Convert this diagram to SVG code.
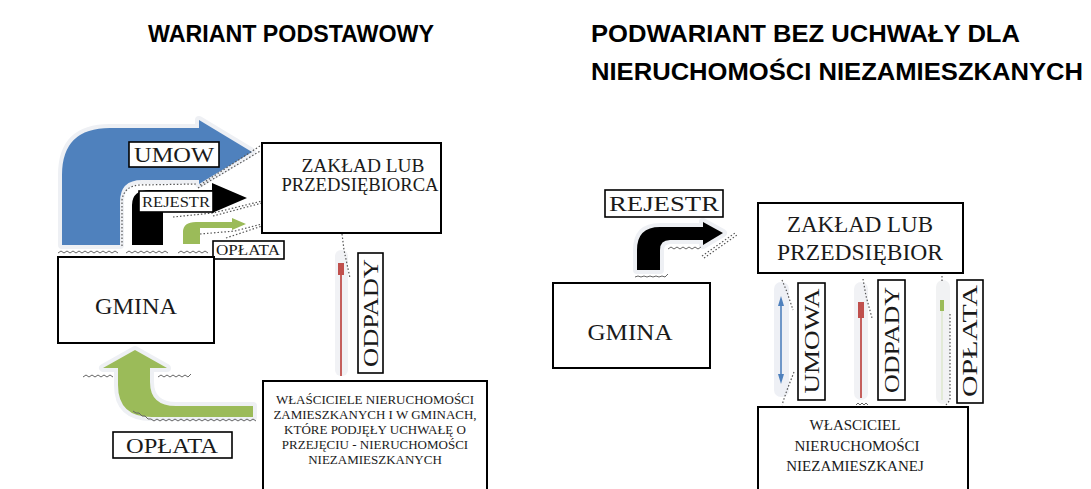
<svg xmlns="http://www.w3.org/2000/svg" width="1091" height="489" viewBox="0 0 1091 489">
<style>
.title{font-family:"Liberation Sans",Arial,sans-serif;font-weight:bold;font-size:24px;fill:#000}
.t{font-family:"Liberation Serif","Times New Roman",serif;fill:#1a1a1a}
.box{fill:#fff;stroke:#000;stroke-width:2}
.lbl{fill:#fff;stroke:#000;stroke-width:1.6}
.dot{fill:none;stroke:#555;stroke-width:1.2;stroke-dasharray:1.5 2}
.wave{fill:none;stroke:#666;stroke-width:1}
.halo{fill:none;stroke:#eef0f4;stroke-width:8;stroke-linejoin:round}
</style>
<rect width="1091" height="489" fill="#fff"/>
<text class="title" x="148" y="42" textLength="286" lengthAdjust="spacingAndGlyphs">WARIANT PODSTAWOWY</text>
<text class="title" x="591" y="42" textLength="429" lengthAdjust="spacingAndGlyphs">PODWARIANT BEZ UCHWAŁY DLA</text>
<text class="title" x="591" y="80" textLength="492" lengthAdjust="spacingAndGlyphs">NIERUCHOMOŚCI NIEZAMIESZKANYCH</text>

<g id="connectors">
  <!-- LEFT: blue UMOWA bent arrow -->
  <path class="halo" d="M62,245 L62,175 Q62,128 110,128 L199,128 L199,120 L252,152 L199,184 L199,180 L142,180 Q120,180 120,202 L120,245 Z"/>
  <path id="arrow-umow" d="M62,245 L62,175 Q62,128 110,128 L199,128 L199,120 L252,152 L199,184 L199,180 L142,180 Q120,180 120,202 L120,245 Z" fill="#4F81BD"/>
  <path class="dot" d="M122,246 L122,200 Q124,186 140,185 L196,184"/>
  <path class="dot" d="M198,188 L262,150"/>
  <path class="dot" d="M200,185 L260,146"/>
  <!-- black REJESTR bent arrow -->
  <path id="arrow-rejestr" d="M132,245 L132,205 Q132,190 150,190 L212,190 L212,183 L247,198 L212,213 L212,208 L163,208 L163,245 Z" fill="#000"/>
  <path class="dot" d="M173,217 L213,213 L262,201"/>
  <path class="dot" d="M213,216 L262,203"/>
  <!-- green small OPŁATA arrow -->
  <path id="arrow-oplata-top" d="M183,244 L183,232 Q183,222 196,222 L232,222 L232,218 L246,224 L232,230 L232,228 L200,228 L200,244 Z" fill="#9BBB59"/>
  <path class="dot" d="M200,234 L235,231 L262,224"/>
  <path class="dot" d="M226,238 L262,226"/>
  <!-- wavy baseline under left arrows -->
  <path class="wave" d="M58,253 l3,-2 l3,2 l3,-2 l3,2 l3,-2 l3,2 l3,-2 l3,2 l3,-2 l3,2 l3,-2 l3,2 l3,-2 l3,2 l3,-2 l3,2 l3,-2 l3,2 l3,-2 l3,2 M126,253 l3,-2 l3,2 l3,-2 l3,2 l3,-2 l3,2 l3,-2 l3,2 l3,-2 l3,2 l3,-2 l3,2 l3,-2 l3,2 M178,253 l3,-2 l3,2 l3,-2 l3,2 l3,-2 l3,2 l3,-2 l3,2 l3,-2 l3,2"/>
  <!-- left red ODPADY arrow -->
  <rect x="335" y="250" width="13" height="126" rx="6" fill="#f1f2f5"/>
  <line x1="341" y1="270" x2="341" y2="376" stroke="#C0504D" stroke-width="1.8"/>
  <rect x="338" y="263" width="6" height="12" fill="#C0504D"/>
  <path class="dot" d="M342,234 L344,250 L350,278"/>
  <!-- left green OPŁATA arrow up to GMINA -->
  <path class="halo" d="M118,368 L118,385 Q118,417 152,417 L253,417 L253,406 L176,406 Q150,406 150,382 L150,368 L167,368 L135,350 L103,368 Z"/>
  <path id="arrow-oplata-left" d="M118,368 L118,385 Q118,417 152,417 L253,417 L253,406 L176,406 Q150,406 150,382 L150,368 L167,368 L135,350 L103,368 Z" fill="#9BBB59"/>
  <path class="wave" d="M83,377 l3,-2 l3,2 l3,-2 l3,2 l3,-2 l3,2 l3,-2 l3,2 l3,-2 l3,2 M158,377 l3,-2 l3,2 l3,-2 l3,2 l3,-2 l3,2 l3,-2 l3,2 l3,-2 l3,2 l3,-3"/>
  <path class="wave" d="M133,411 l3,2 l3,0 l3,3 l3,0 l3,3 l3,0 l3,2 l3,-2 l3,2 l3,-2 l3,2 l3,-2 l3,2 l3,-2 l3,2 l3,-2 l3,2 l3,-2 l3,2 l3,-2 l3,2 l3,-2 l3,2 l3,-2 l3,2 l3,-2 l3,2 l3,-2 l3,2 l3,-2 l3,2 l3,-2 l3,2 l3,-2 l3,2 l3,-2 l3,2 l3,-2 l3,2 l3,-2 l3,2"/>

  <!-- RIGHT: black REJESTR bent arrow -->
  <path class="halo" d="M637,270 L637,250 Q637,227 660,227 L703,227 L703,222 L723,233 L703,245 L703,240 L670,240 Q660,240 660,250 L660,270 Z"/>
  <path id="arrow-rejestr-right" d="M637,270 L637,250 Q637,227 660,227 L703,227 L703,222 L723,233 L703,245 L703,240 L670,240 Q660,240 660,250 L660,270 Z" fill="#000"/>
  <path class="wave" d="M635,277 l3,-1 l3,1 l3,-1 l3,1 l3,-1 l3,1 l3,-1 l3,1 l3,-1 l3,1 l3,-3"/>
  <path class="wave" d="M668,249 l3,-2 l3,2 l3,-2 l3,2 l3,-2 l3,2 l3,-2 l3,2 l3,-2 l3,2 l3,-2"/>
  <path class="dot" d="M702,256 L735,233"/>
  <path class="dot" d="M704,258 L737,235"/>
  <!-- right blue UMOWA double arrow -->
  <rect x="774" y="282" width="15" height="115" rx="7" fill="#eef0f5"/>
  <line x1="781" y1="299" x2="781" y2="381" stroke="#4F81BD" stroke-width="1.6"/>
  <path d="M778,306 L781,296 L784,306 Z M778,374 L781,384 L784,374 Z" fill="#4F81BD"/>
  <path class="dot" d="M782,280 L787,292 L793,310"/>
  <path class="dot" d="M794,372 L787,390 L782,405"/>
  <!-- right red ODPADY arrow -->
  <rect x="854" y="282" width="14" height="118" rx="7" fill="#f1f2f5"/>
  <line x1="861" y1="310" x2="861" y2="398" stroke="#C0504D" stroke-width="1.8"/>
  <rect x="858" y="302" width="6" height="16" fill="#C0504D"/>
  <path class="dot" d="M863,279 L866,296 L872,318"/>
  <path class="wave" d="M856,405 l2,-2 l2,2 l2,-2 l2,2 l2,-2 l2,2"/>
  <!-- right green OPŁATA arrow -->
  <rect x="936" y="280" width="14" height="124" rx="7" fill="#f1f2f3"/>
  <rect x="940" y="300" width="4" height="11" fill="#9BBB59"/>
  <line x1="942" y1="311" x2="942" y2="400" stroke="#d9e4c4" stroke-width="1.2"/>
  <path class="dot" d="M950,314 L950,400 L946,405"/>
  <path class="dot" d="M942,276 L942,282"/>
</g>

<g id="node-zaklad-left">
  <rect class="box" x="262" y="143" width="179" height="90"/>
  <text class="t" x="363" y="172" font-size="18" text-anchor="middle" textLength="123" lengthAdjust="spacingAndGlyphs">ZAKŁAD LUB</text>
  <text class="t" x="360" y="191" font-size="18" text-anchor="middle" textLength="157" lengthAdjust="spacingAndGlyphs">PRZEDSIĘBIORCA</text>
</g>
<g id="label-umow">
  <rect class="lbl" x="129" y="142" width="90" height="25"/>
  <text class="t" x="174" y="162" font-size="22" text-anchor="middle" textLength="80" lengthAdjust="spacingAndGlyphs">UMOW</text>
</g>
<g id="label-rejestr-left">
  <rect class="lbl" x="139" y="191" width="74" height="21"/>
  <text class="t" x="176" y="207" font-size="15" text-anchor="middle" textLength="68" lengthAdjust="spacingAndGlyphs">REJESTR</text>
</g>
<g id="label-oplata-top">
  <rect class="lbl" x="213" y="241" width="71" height="18"/>
  <text class="t" x="248" y="255" font-size="14" text-anchor="middle" textLength="64" lengthAdjust="spacingAndGlyphs">OPŁATA</text>
</g>
<g id="node-gmina-left">
  <rect class="box" x="58" y="257" width="156" height="86"/>
  <text class="t" x="136" y="314" font-size="24" text-anchor="middle" textLength="82" lengthAdjust="spacingAndGlyphs">GMINA</text>
</g>
<g id="label-odpady-left">
  <rect class="lbl" x="358" y="253" width="25" height="120"/>
  <text class="t" transform="translate(378,313) rotate(-90)" font-size="20" text-anchor="middle" textLength="108" lengthAdjust="spacingAndGlyphs">ODPADY</text>
</g>
<g id="label-oplata-left">
  <rect class="lbl" x="113" y="432" width="119" height="26"/>
  <text class="t" x="172" y="453" font-size="21" text-anchor="middle" textLength="92" lengthAdjust="spacingAndGlyphs">OPŁATA</text>
</g>
<g id="node-wlasciciele-left">
  <rect class="box" x="263" y="381" width="224" height="130"/>
  <g class="t" font-size="13" text-anchor="middle">
    <text x="375" y="404">WŁAŚCICIELE NIERUCHOMOŚCI</text>
    <text x="375" y="419">ZAMIESZKANYCH I W GMINACH,</text>
    <text x="375" y="434">KTÓRE PODJĘŁY UCHWAŁĘ O</text>
    <text x="375" y="449">PRZEJĘCIU - NIERUCHOMOŚCI</text>
    <text x="375" y="464">NIEZAMIESZKANYCH</text>
  </g>
</g>

<g id="label-rejestr-right">
  <rect class="lbl" x="605" y="190" width="118" height="27"/>
  <text class="t" x="664" y="211" font-size="21" text-anchor="middle" textLength="110" lengthAdjust="spacingAndGlyphs">REJESTR</text>
</g>
<g id="node-zaklad-right">
  <rect class="box" x="758" y="203" width="205" height="70"/>
  <text class="t" x="860" y="232" font-size="23" text-anchor="middle" textLength="146" lengthAdjust="spacingAndGlyphs">ZAKŁAD LUB</text>
  <text class="t" x="860" y="260" font-size="23" text-anchor="middle" textLength="166" lengthAdjust="spacingAndGlyphs">PRZEDSIĘBIOR</text>
</g>
<g id="node-gmina-right">
  <rect class="box" x="553" y="283" width="157" height="85"/>
  <text class="t" x="630" y="340" font-size="24" text-anchor="middle" textLength="85" lengthAdjust="spacingAndGlyphs">GMINA</text>
</g>
<g id="label-umowa-right">
  <rect class="lbl" x="798" y="283" width="27" height="117"/>
  <text class="t" transform="translate(819,341) rotate(-90)" font-size="22" text-anchor="middle" textLength="105" lengthAdjust="spacingAndGlyphs">UMOWA</text>
</g>
<g id="label-odpady-right">
  <rect class="lbl" x="878" y="280" width="27" height="120"/>
  <text class="t" transform="translate(899,340) rotate(-90)" font-size="22" text-anchor="middle" textLength="106" lengthAdjust="spacingAndGlyphs">ODPADY</text>
</g>
<g id="label-oplata-right">
  <rect class="lbl" x="957" y="280" width="26" height="123"/>
  <text class="t" transform="translate(977,341) rotate(-90)" font-size="22" text-anchor="middle" textLength="112" lengthAdjust="spacingAndGlyphs">OPŁATA</text>
</g>
<g id="node-wlasciciel-right">
  <rect class="box" x="758" y="407" width="210" height="100"/>
  <g class="t" font-size="15" text-anchor="middle">
    <text x="855" y="430">WŁASCICIEL</text>
    <text x="857" y="451">NIERUCHOMOŚCI</text>
    <text x="855" y="471">NIEZAMIESZKANEJ</text>
  </g>
</g>
</svg>
